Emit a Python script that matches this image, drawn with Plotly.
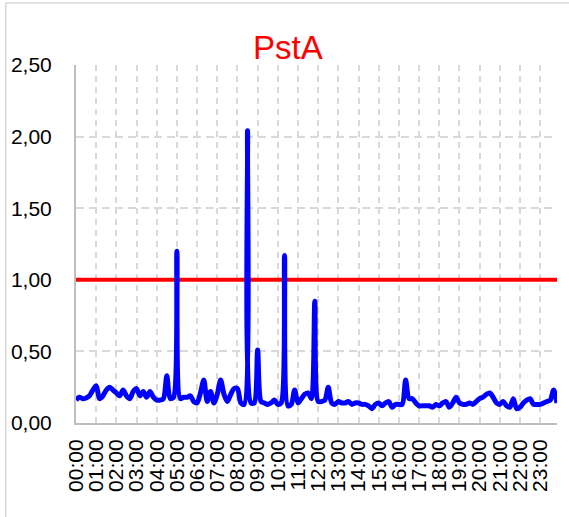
import plotly.graph_objects as go

# 10-minute samples, 00:00 .. 23:50
hours = [f"{h:02d}" for h in range(24)]
minutes = ["00", "10", "20", "30", "40", "50"]
times = [f"{h}:{m}" for h in hours for m in minutes]
tick_labels = [f"{h}:00" for h in hours]

pst_a = [
    0.16, 0.18, 0.17, 0.175, 0.19, 0.23,
    0.26, 0.17, 0.19, 0.23, 0.25, 0.23,
    0.21, 0.19, 0.23, 0.19, 0.17, 0.22,
    0.24, 0.19, 0.22, 0.18, 0.22, 0.18,
    0.16, 0.16, 0.17, 0.33, 0.17, 0.18,
    1.20, 0.17, 0.18, 0.18, 0.19, 0.15,
    0.14, 0.21, 0.30, 0.15, 0.22, 0.14,
    0.20, 0.30, 0.20, 0.15, 0.20, 0.24,
    0.24, 0.14, 0.13, 2.04, 0.14, 0.14,
    0.51, 0.15, 0.14, 0.13, 0.14, 0.16,
    0.13, 0.14, 1.17, 0.12, 0.13, 0.23,
    0.14, 0.17, 0.20, 0.21, 0.17, 0.85,
    0.15, 0.15, 0.16, 0.25, 0.14, 0.13,
    0.15, 0.14, 0.14, 0.15, 0.13, 0.14,
    0.14, 0.13, 0.13, 0.12, 0.10, 0.13,
    0.14, 0.12, 0.14, 0.15, 0.11, 0.13,
    0.13, 0.13, 0.30, 0.17, 0.17, 0.14,
    0.12, 0.12, 0.12, 0.12, 0.11, 0.13,
    0.12, 0.14, 0.15, 0.11, 0.14, 0.18,
    0.14, 0.13, 0.13, 0.14, 0.13, 0.15,
    0.17, 0.18, 0.20, 0.21, 0.18, 0.14,
    0.13, 0.15, 0.12, 0.11, 0.17, 0.10,
    0.11, 0.14, 0.16, 0.17, 0.13, 0.13,
    0.13, 0.14, 0.15, 0.16, 0.23, 0.14,
]
limit = [1.0] * len(times)

y_ticks = [0, 0.5, 1.0, 1.5, 2.0, 2.5]
y_tick_text = ["0,00", "0,50", "1,00", "1,50", "2,00", "2,50"]

fig = go.Figure()
fig.add_trace(go.Scatter(
    x=times, y=limit, mode="lines",
    line=dict(color="#FF0000", width=4), hoverinfo="skip",
))
fig.add_trace(go.Scatter(
    x=times, y=pst_a, mode="lines",
    line=dict(color="#0000FF", width=5, shape="spline", smoothing=0.8),
))

grid_col = "#D9D9D9"
fig.update_layout(
    width=569, height=517,
    margin=dict(l=76, r=12, t=65, b=94, autoexpand=False),
    paper_bgcolor="white", plot_bgcolor="white",
    showlegend=False,
    title=dict(text="PstA", x=0.506, xref="container", xanchor="center",
               y=0.909, yref="container", yanchor="middle",
               font=dict(family="Liberation Sans", size=33, color="#FF0000")),
    font=dict(family="Liberation Sans", color="#000000"),
    xaxis=dict(
        type="category", categoryorder="array", categoryarray=times,
        range=[0, len(times) - 1], automargin=False,
        tickmode="array", tickvals=tick_labels, ticktext=tick_labels,
        tickangle=-90, tickfont=dict(size=21, color="#000000"),
        showgrid=True, gridcolor=grid_col, gridwidth=1.5, griddash="6px,5px",
        showline=True, linecolor="#BFBFBF", linewidth=2,
        ticks="", ticklabelstandoff=6, zeroline=False,
    ),
    yaxis=dict(
        range=[0, 2.5], automargin=False,
        tickmode="array", tickvals=y_ticks, ticktext=y_tick_text,
        tickfont=dict(size=21, color="#000000"),
        showgrid=True, gridcolor=grid_col, gridwidth=1.5, griddash="8px,5px",
        showline=True, linecolor="#BFBFBF", linewidth=2,
        ticks="", ticklabelstandoff=18, zeroline=False,
    ),
    shapes=[dict(type="rect", xref="paper", yref="paper",
                 x0=-0.146, x1=1.05, y0=-0.4, y1=1.173,
                 line=dict(color="#D9D9D9", width=1.5), layer="below")],
)

fig.write_html("out.html", config={"displayModeBar": False},
               post_script="document.body.style.margin='0';")
